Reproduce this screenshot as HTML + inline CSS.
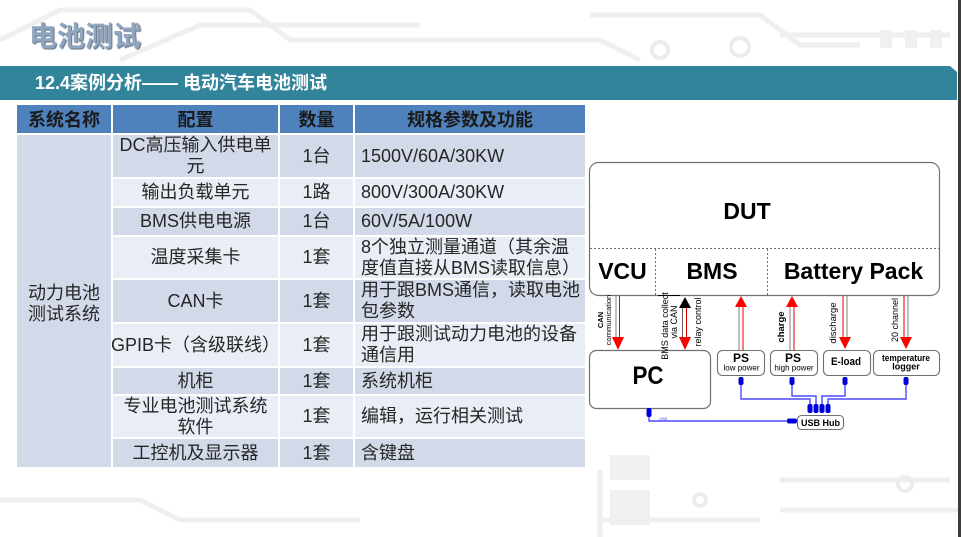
<!DOCTYPE html>
<html><head><meta charset="utf-8">
<style>
*{margin:0;padding:0;box-sizing:border-box}
html,body{width:961px;height:537px;overflow:hidden;background:#fff}
body{position:relative;font-family:"Liberation Sans","Noto Sans CJK SC",sans-serif}
.c{position:absolute;display:flex;align-items:center;justify-content:center;text-align:center;font-size:18px;line-height:21px;color:#262626;white-space:nowrap;font-family:"Liberation Sans","Noto Sans CJK SC",sans-serif}
.l{justify-content:flex-start;text-align:left;padding-left:6px}
.h{background:#4f81bd;font-weight:bold;color:#1a1a1a;padding-top:3px}
.d{background:#d2d9e8}
.w{background:#e9edf5}
</style></head><body>
<svg width="961" height="537" style="position:absolute;left:0;top:0">
<g fill="none" stroke="#efefef" stroke-width="5">
<path d="M0 40 L60 10 L250 10 L290 40 L600 40 L640 60"/>
<path d="M120 60 L200 25 L420 25"/>
<path d="M590 15 L760 15 L800 45 L860 45"/>
<path d="M780 35 L950 35"/>
<path d="M0 500 L140 500 L180 520 L360 520"/>
<path d="M600 520 L760 520"/>
<path d="M780 480 L950 480"/>
<path d="M780 510 L960 510"/>
<path d="M600 470 L600 537"/>
</g>
<g fill="none" stroke="#ececec" stroke-width="4">
<circle cx="660" cy="50" r="8"/><circle cx="740" cy="47" r="9"/>
<circle cx="700" cy="500" r="6"/><circle cx="905" cy="484" r="7"/>
</g>
<g fill="#f0f0f0">
<rect x="880" y="30" width="12" height="18"/><rect x="905" y="30" width="12" height="18"/><rect x="930" y="30" width="12" height="18"/>
<rect x="610" y="455" width="40" height="25"/><rect x="610" y="490" width="40" height="35"/>
</g>
</svg>

<div style="position:absolute;left:29px;top:21px;font-size:28px;line-height:32px;font-weight:bold;color:#90a6bf;text-shadow:1px 1px 1px #5d6f84;font-family:'Liberation Sans','Noto Sans CJK SC',sans-serif">电池测试</div>

<div style="position:absolute;left:0;top:66px;width:957px;height:34px;background:#32849a;clip-path:polygon(0 0,950px 0,957px 6px,957px 34px,0 34px)"></div>
<div style="position:absolute;left:35px;top:66px;height:34px;line-height:34px;font-size:18px;font-weight:bold;color:#fff;font-family:'Liberation Sans','Noto Sans CJK SC',sans-serif;white-space:nowrap">12.4案例分析—— 电动汽车电池测试</div>
<div style="position:absolute;left:958px;top:0;width:3px;height:537px;background:#3c3c3c"></div>

<!-- header -->
<div class="c h" style="left:17px;top:105px;width:94px;height:28px">系统名称</div>
<div class="c h" style="left:113px;top:105px;width:165px;height:28px">配置</div>
<div class="c h" style="left:280px;top:105px;width:73px;height:28px">数量</div>
<div class="c h" style="left:355px;top:105px;width:230px;height:28px">规格参数及功能</div>

<!-- first col -->
<div class="c d" style="left:17px;top:135px;width:94px;height:332px;padding-top:6px">动力电池<br>测试系统</div>

<!-- rows -->
<div class="c d" style="left:113px;top:135px;width:165px;height:42px">DC高压输入供电单<br>元</div>
<div class="c d" style="left:280px;top:135px;width:73px;height:42px">1台</div>
<div class="c d l" style="left:355px;top:135px;width:230px;height:42px">1500V/60A/30KW</div>

<div class="c w" style="left:113px;top:179px;width:165px;height:27px">输出负载单元</div>
<div class="c w" style="left:280px;top:179px;width:73px;height:27px">1路</div>
<div class="c w l" style="left:355px;top:179px;width:230px;height:27px">800V/300A/30KW</div>

<div class="c d" style="left:113px;top:208px;width:165px;height:27px">BMS供电电源</div>
<div class="c d" style="left:280px;top:208px;width:73px;height:27px">1台</div>
<div class="c d l" style="left:355px;top:208px;width:230px;height:27px">60V/5A/100W</div>

<div class="c w" style="left:113px;top:237px;width:165px;height:41px">温度采集卡</div>
<div class="c w" style="left:280px;top:237px;width:73px;height:41px">1套</div>
<div class="c w l" style="left:355px;top:237px;width:230px;height:41px">8个独立测量通道（其余温<br>度值直接从BMS读取信息）</div>

<div class="c d" style="left:113px;top:280px;width:165px;height:42px">CAN卡</div>
<div class="c d" style="left:280px;top:280px;width:73px;height:42px">1套</div>
<div class="c d l" style="left:355px;top:280px;width:230px;height:42px">用于跟BMS通信，读取电池<br>包参数</div>

<div class="c w" style="left:113px;top:324px;width:165px;height:42px">GPIB卡（含级联线）</div>
<div class="c w" style="left:280px;top:324px;width:73px;height:42px">1套</div>
<div class="c w l" style="left:355px;top:324px;width:230px;height:42px">用于跟测试动力电池的设备<br>通信用</div>

<div class="c d" style="left:113px;top:368px;width:165px;height:26px">机柜</div>
<div class="c d" style="left:280px;top:368px;width:73px;height:26px">1套</div>
<div class="c d l" style="left:355px;top:368px;width:230px;height:26px">系统机柜</div>

<div class="c w" style="left:113px;top:396px;width:165px;height:41px">专业电池测试系统<br>软件</div>
<div class="c w" style="left:280px;top:396px;width:73px;height:41px">1套</div>
<div class="c w l" style="left:355px;top:396px;width:230px;height:41px">编辑，运行相关测试</div>

<div class="c d" style="left:113px;top:439px;width:165px;height:28px">工控机及显示器</div>
<div class="c d" style="left:280px;top:439px;width:73px;height:28px">1套</div>
<div class="c d l" style="left:355px;top:439px;width:230px;height:28px">含键盘</div>

<!-- diagram -->
<svg width="961" height="537" style="position:absolute;left:0;top:0" font-family="'Liberation Sans',Arial,sans-serif">
<rect x="586" y="142" width="370" height="296" fill="#fff"/>
<!-- DUT -->
<rect x="589.5" y="162.5" width="350" height="133" rx="9" fill="#fff" stroke="#707070" stroke-width="1.2"/>
<g stroke="#707070" stroke-width="1" stroke-dasharray="2,2">
<line x1="590" y1="248.5" x2="939" y2="248.5"/>
<line x1="655.5" y1="249" x2="655.5" y2="295"/>
<line x1="767.5" y1="249" x2="767.5" y2="295"/>
</g>
<g font-weight="bold" font-size="23" fill="#000" text-anchor="middle">
<text x="747" y="219">DUT</text>
<text x="622.5" y="279">VCU</text>
<text x="712" y="279">BMS</text>
<text x="853.5" y="279">Battery Pack</text>
</g>
<line x1="658" y1="295.5" x2="680" y2="295.5" stroke="#000" stroke-width="1"/>

<!-- PC -->
<rect x="589.5" y="350.5" width="121" height="58" rx="7" fill="#fff" stroke="#707070" stroke-width="1.2"/>
<text x="648" y="384" font-size="25" font-weight="bold" text-anchor="middle" textLength="31" lengthAdjust="spacingAndGlyphs">PC</text>

<!-- device boxes -->
<g fill="#fff" stroke="#707070" stroke-width="1.1">
<rect x="717.5" y="350.5" width="47" height="25" rx="5"/>
<rect x="770.5" y="350.5" width="47" height="25" rx="5"/>
<rect x="823.5" y="350.5" width="47" height="25" rx="5"/>
<rect x="873.5" y="350.5" width="66" height="25" rx="5"/>
<rect x="797.5" y="415.5" width="46" height="14" rx="4"/>
</g>
<g fill="#000" text-anchor="middle">
<text x="741" y="362" font-size="12" font-weight="bold">PS</text>
<text x="741.5" y="370.5" font-size="8">low power</text>
<text x="793" y="362" font-size="12" font-weight="bold">PS</text>
<text x="794" y="370.5" font-size="8">high power</text>
<text x="846" y="365" font-size="11" font-weight="bold" textLength="30" lengthAdjust="spacingAndGlyphs">E-load</text>
<text x="906" y="361" font-size="9" font-weight="bold" textLength="48" lengthAdjust="spacingAndGlyphs">temperature</text>
<text x="906" y="369.5" font-size="9" font-weight="bold">logger</text>
<text x="820.5" y="426" font-size="9" font-weight="bold">USB Hub</text>
</g>

<!-- arrows -->
<g stroke-width="1">
<line x1="616" y1="296" x2="616" y2="338" stroke="#808080"/>
<line x1="619.5" y1="296" x2="619.5" y2="338" stroke="#e00000"/>
<line x1="682.5" y1="308" x2="682.5" y2="338" stroke="#606060"/>
<line x1="686.5" y1="308" x2="686.5" y2="338" stroke="#e00000"/>
<line x1="739" y1="307" x2="739" y2="350" stroke="#808080"/>
<line x1="743" y1="307" x2="743" y2="350" stroke="#e00000"/>
<line x1="790" y1="307" x2="790" y2="350" stroke="#808080"/>
<line x1="794" y1="307" x2="794" y2="350" stroke="#e00000"/>
<line x1="843" y1="296" x2="843" y2="338" stroke="#e00000"/>
<line x1="847" y1="296" x2="847" y2="338" stroke="#808080"/>
<line x1="904" y1="296" x2="904" y2="338" stroke="#e00000"/>
<line x1="908" y1="296" x2="908" y2="338" stroke="#808080"/>
</g>
<g fill="#ff0000">
<polygon points="612,337 624,337 618,350"/>
<polygon points="679,337 691,337 685,350"/>
<polygon points="735,307 747,307 741,296"/>
<polygon points="786,307 798,307 792,296"/>
<polygon points="839,337 851,337 845,349"/>
<polygon points="900,337 912,337 906,349"/>
</g>
<polygon points="679,308 691,308 685,297" fill="#000"/>

<!-- rotated labels -->
<g fill="#000" text-anchor="middle">
<text transform="translate(603,320) rotate(-90)" font-size="7.5" font-weight="bold">CAN</text>
<text transform="translate(611,320) rotate(-90)" font-size="7.5">communication</text>
<text transform="translate(668,326) rotate(-90)" font-size="9">BMS data collect</text>
<text transform="translate(677,322) rotate(-90)" font-size="9">via CAN</text>
<text transform="translate(701,322) rotate(-90)" font-size="9">relay control</text>
<text transform="translate(784,327) rotate(-90)" font-size="9.5" font-weight="bold">charge</text>
<text transform="translate(836,323) rotate(-90)" font-size="9.5">discharge</text>
<text transform="translate(898,320) rotate(-90)" font-size="9">20 channel</text>
</g>

<!-- USB -->
<g fill="none" stroke="#4a4aff" stroke-width="1.4">
<polyline points="741,384 741,399 810,399 810,405"/>
<polyline points="792,384 792,396 816,396 816,405"/>
<polyline points="845,384 845,396 822,396 822,405"/>
<polyline points="906,384 906,399 828,399 828,405"/>
<polyline points="649,416 649,421 788,421"/>
</g>
<g fill="#0000dd">
<rect x="738.5" y="377" width="5" height="8" rx="2"/>
<rect x="789.5" y="377" width="5" height="8" rx="2"/>
<rect x="842.5" y="377" width="5" height="8" rx="2"/>
<rect x="903.5" y="377" width="5" height="8" rx="2"/>
<rect x="807.5" y="404" width="5" height="9" rx="2"/>
<rect x="813.5" y="404" width="5" height="9" rx="2"/>
<rect x="819.5" y="404" width="5" height="9" rx="2"/>
<rect x="825.5" y="404" width="5" height="9" rx="2"/>
<rect x="646.5" y="408" width="5" height="9" rx="2"/>
<rect x="787" y="418.5" width="10" height="5" rx="2"/>
</g>
<text x="659" y="420" font-size="4" fill="#4a4aff">USB</text>
</svg>
</body></html>
